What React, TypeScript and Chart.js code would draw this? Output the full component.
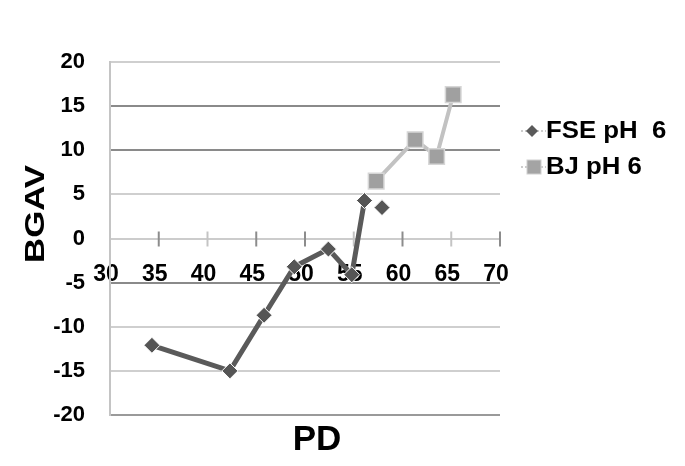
import React, { useEffect, useRef } from 'react';
import { Chart, registerables } from 'chart.js';

Chart.register(...registerables);

const seriesNames = ['FSE pH  6', 'BJ pH 6'];
const fseX = [34.3, 42.3, 45.8, 48.9, 52.4, 54.8, 56.1, 57.9];
const fseY = [-12.1, -15.0, -8.7, -3.2, -1.2, -4.1, 4.3, 3.5];
const bjX = [57.3, 61.3, 63.5, 65.2];
const bjY = [6.5, 11.2, 9.3, 16.3];
const xTickValues = [30, 35, 40, 45, 50, 55, 60, 65, 70];
const yTickValues = [-20, -15, -10, -5, 0, 5, 10, 15, 20];
const darkGridValues = [15, 10, -5];
const xTitle = 'PD';
const yTitle = 'BGAV';

const FONT = 'Arial, "Liberation Sans", sans-serif';

const decorPlugin = {
  id: 'decor',
  beforeDatasetsDraw(chart: any) {
    const ctx = chart.ctx;
    const xs = chart.scales.x;
    const ys = chart.scales.y;
    const y0 = ys.getPixelForValue(0);
    ctx.save();
    xTickValues.forEach((v) => {
      if (v === xTickValues[0]) return;
      const px = xs.getPixelForValue(v);
      ctx.strokeStyle = v === 40 || v === 65 || v === 55 ? '#c4c4c4' : '#8c8c8c';
      ctx.lineWidth = 2;
      ctx.beginPath();
      ctx.moveTo(px, y0 - 7);
      ctx.lineTo(px, y0 + 8);
      ctx.stroke();
    });
    ctx.restore();
  },
  afterDraw(chart: any) {
    const ctx = chart.ctx;
    ctx.save();
    ctx.fillStyle = '#000';
    ctx.font = `bold 35px ${FONT}`;
    ctx.textAlign = 'center';
    ctx.textBaseline = 'middle';
    ctx.fillText(xTitle, 317, 440);
    ctx.restore();

    ctx.save();
    ctx.fillStyle = '#000';
    ctx.font = `bold 30px ${FONT}`;
    ctx.textAlign = 'center';
    ctx.textBaseline = 'middle';
    ctx.translate(36, 214);
    ctx.rotate(-Math.PI / 2);
    ctx.scale(1.16, 0.94);
    ctx.fillText(yTitle, 0, 0);
    ctx.restore();

    // legend
    const items = [
      { y: 131, style: 'diamond' },
      { y: 167, style: 'square' },
    ];
    items.forEach((it, i) => {
      ctx.save();
      ctx.strokeStyle = '#bdbdbd';
      ctx.lineWidth = 1.5;
      ctx.setLineDash([2, 2]);
      ctx.beginPath();
      ctx.moveTo(521, it.y);
      ctx.lineTo(546, it.y);
      ctx.stroke();
      ctx.setLineDash([]);
      if (it.style === 'diamond') {
        ctx.fillStyle = '#5a5a5a';
        ctx.beginPath();
        ctx.moveTo(532, it.y - 6);
        ctx.lineTo(538, it.y);
        ctx.lineTo(532, it.y + 6);
        ctx.lineTo(526, it.y);
        ctx.closePath();
        ctx.fill();
      } else {
        ctx.fillStyle = '#a4a4a4';
        ctx.fillRect(527, it.y - 7, 14, 14);
        ctx.strokeStyle = '#d0d0d0';
        ctx.lineWidth = 1;
        ctx.strokeRect(527, it.y - 7, 14, 14);
      }
      ctx.fillStyle = '#000';
      ctx.font = `bold 23px ${FONT}`;
      ctx.textAlign = 'left';
      ctx.textBaseline = 'middle';
      ctx.translate(546, it.y + 1);
      ctx.scale(1.12, 1);
      ctx.fillText(seriesNames[i], 0, 0);
      ctx.restore();
    });
  },
};

export default function App() {
  const ref = useRef<HTMLCanvasElement | null>(null);

  useEffect(() => {
    document.body.style.margin = '0';
    const canvas = ref.current;
    if (!canvas) return;
    const lastFse = fseX.length - 1;
    const chart = new Chart(canvas, {
      type: 'scatter',
      data: {
        datasets: [
          {
            label: seriesNames[0],
            data: fseX.map((x, i) => ({ x, y: fseY[i] })),
            showLine: true,
            borderColor: '#5a5a5a',
            borderWidth: 5,
            backgroundColor: '#555555',
            pointStyle: 'rectRot',
            pointRadius: 8,
            pointBorderColor: '#ffffff',
            pointBorderWidth: 1,
            segment: {
              borderColor: (c: any) => (c.p1DataIndex === lastFse ? 'rgba(0,0,0,0)' : '#5a5a5a'),
            },
          },
          {
            label: seriesNames[1],
            data: bjX.map((x, i) => ({ x, y: bjY[i] })),
            showLine: true,
            borderColor: '#c2c2c2',
            borderWidth: 4,
            backgroundColor: '#a0a0a0',
            pointStyle: 'rect',
            pointRadius: 11,
            pointBorderColor: '#d6d6d6',
            pointBorderWidth: 1.5,
          },
        ],
      },
      options: {
        responsive: false,
        animation: false,
        layout: { padding: { left: 0, top: 62, right: 185, bottom: 51 } },
        plugins: { legend: { display: false }, tooltip: { enabled: false } },
        scales: {
          x: {
            type: 'linear',
            min: 30,
            max: 70,
            position: { y: 0 } as any,
            afterBuildTicks: (s: any) => {
              s.ticks = xTickValues.map((v) => ({ value: v }));
            },
            ticks: {
              color: '#000',
              font: { family: FONT, size: 23, weight: 'bold' },
              padding: 22,
              labelOffset: -4,
            },
            grid: { drawOnChartArea: false, drawTicks: false },
            border: { color: '#cccccc', width: 2 },
          },
          y: {
            type: 'linear',
            min: -20,
            max: 20,
            afterBuildTicks: (s: any) => {
              s.ticks = yTickValues.map((v) => ({ value: v }));
            },
            afterFit: (s: any) => {
              s.width = 110;
            },
            ticks: {
              color: '#000',
              font: { family: FONT, size: 22, weight: 'bold' },
              padding: 25,
            },
            grid: {
              drawTicks: false,
              lineWidth: 2,
              color: (c: any) => {
                const v = c.tick ? c.tick.value : 0;
                if (v === -20) return '#9a9a9a';
                return darkGridValues.includes(v) ? '#8a8a8a' : '#cfcfcf';
              },
            },
            border: { color: '#c4c4c4', width: 2 },
          },
        },
      },
      plugins: [decorPlugin],
    } as any);
    return () => chart.destroy();
  }, []);

  return (
    <div style={{ position: 'absolute', left: 0, top: 0, width: 685, height: 466, background: '#fff' }}>
      <canvas ref={ref} width={685} height={466} style={{ display: 'block' }} />
    </div>
  );
}
